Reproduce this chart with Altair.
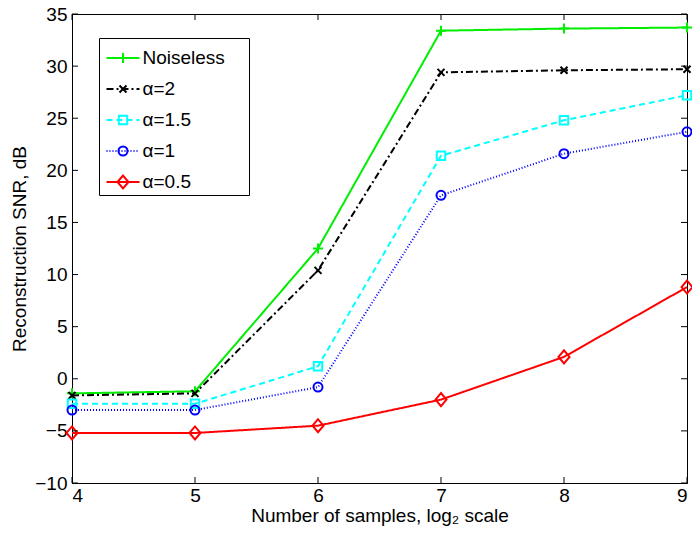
import altair as alt
import pandas as pd

# Reconstruction SNR (dB) versus number of samples (log2 scale)
samples = [4, 5, 6, 7, 8, 9]
series = ["Noiseless", "α=2", "α=1.5", "α=1", "α=0.5"]
snr_noiseless = [-1.4, -1.2, 12.5, 33.4, 33.6, 33.7]
snr_a2 = [-1.6, -1.4, 10.4, 29.4, 29.6, 29.7]
snr_a15 = [-2.4, -2.4, 1.2, 21.4, 24.8, 27.2]
snr_a1 = [-3.0, -3.0, -0.8, 17.6, 21.6, 23.7]
snr_a05 = [-5.2, -5.2, -4.5, -2.0, 2.1, 8.8]

x_ticks = [4, 5, 6, 7, 8, 9]
y_ticks = [-10, -5, 0, 5, 10, 15, 20, 25, 30, 35]

colors = ["#00ee00", "#000000", "#00ffff", "#0000ff", "#ff0000"]
dashes = [[1, 0], [7, 3, 2, 3], [6, 4], [1, 2], [1, 0]]
line_widths = [2, 2, 2, 1, 2]
# Marker outlines, all drawn at one symbol size so their extents set the scale
shapes = [
    "M-1,0H1M0,-1V1",                                   # plus
    "M-0.7,-0.7L0.7,0.7M-0.7,0.7L0.7,-0.7",             # x
    "M-0.84,-0.84H0.84V0.84H-0.84Z",                    # square
    "M-0.9,0A0.9,0.9 0 1,0 0.9,0A0.9,0.9 0 1,0 -0.9,0Z",  # circle
    "M-1.1,0L0,-1.3L1.1,0L0,1.3Z",                      # diamond
]
MARKER_SIZE = 100

rows = []
for name, vals in zip(series, [snr_noiseless, snr_a2, snr_a15, snr_a1, snr_a05]):
    for s, v in zip(samples, vals):
        rows.append({"samples": s, "snr": v, "series": name})
df = pd.DataFrame(rows)

W, H = 615, 469
FONT = "Liberation Sans"
FS = 19
TICK = 6
X_TITLE = "Number of samples, log₂ scale"
Y_TITLE = "Reconstruction SNR, dB"

xs = alt.Scale(domain=[4, 9], nice=False)
ys = alt.Scale(domain=[-10, 35], nice=False)
x_axis = alt.Axis(values=x_ticks, title=X_TITLE, labelPadding=3, titlePadding=1)
y_axis = alt.Axis(values=y_ticks, title=Y_TITLE, labelPadding=5, titlePadding=5,
                  labelExpr="datum.value < 0 ? '−' + abs(datum.value) : datum.label")

x_enc = alt.X("samples:Q", scale=xs, axis=x_axis)
y_enc = alt.Y("snr:Q", scale=ys, axis=y_axis)

# Two stacked legends share one layout: dashed line samples below, markers on top
legend_common = dict(
    title=" ", titleFontSize=5, titlePadding=2,
    orient="none", legendX=27, legendY=24,
    symbolFillColor="transparent", symbolOffset=11.5,
    labelFont=FONT, labelFontSize=FS, labelOffset=10,
    labelExpr="datum.label + '\u00a0\u00a0\u00a0\u00a0\u200b'",
    clipHeight=20, rowPadding=11, padding=3,
)
line_legend = alt.Legend(
    symbolType="M-3,0H3", symbolSize=121, labelColor="black",
    strokeColor="black", fillColor="white", **legend_common,
)
marker_legend = alt.Legend(
    symbolStrokeWidth=2, symbolSize=MARKER_SIZE, labelOpacity=0, **legend_common,
)

lines = alt.Chart(df).mark_line().encode(
    x=x_enc, y=y_enc,
    color=alt.Color("series:N", sort=series,
                    scale=alt.Scale(domain=series, range=colors), legend=line_legend),
    strokeDash=alt.StrokeDash("series:N", sort=series,
                              scale=alt.Scale(domain=series, range=dashes), legend=line_legend),
    strokeWidth=alt.StrokeWidth("series:N", sort=series,
                                scale=alt.Scale(domain=series, range=line_widths), legend=line_legend),
)

points = alt.Chart(df).mark_point(filled=False, strokeWidth=2, opacity=1, size=MARKER_SIZE).encode(
    x=x_enc, y=y_enc,
    color=alt.Color("series:N", sort=series,
                    scale=alt.Scale(domain=series, range=colors), legend=marker_legend),
    shape=alt.Shape("series:N", sort=series,
                    scale=alt.Scale(domain=series, range=shapes), legend=marker_legend),
)

# Inward-pointing tick marks on all four sides of the frame
xt = alt.Chart(pd.DataFrame({"t": x_ticks}))
yt = alt.Chart(pd.DataFrame({"t": y_ticks}))
tick_style = dict(color="black", strokeWidth=1)
tx = alt.X("t:Q", scale=xs, axis=x_axis)
ty = alt.Y("t:Q", scale=ys, axis=y_axis)
ticks = [
    xt.mark_rule(**tick_style).encode(x=tx, y=alt.value(H), y2=alt.value(H - TICK)),
    xt.mark_rule(**tick_style).encode(x=tx, y=alt.value(0), y2=alt.value(TICK)),
    yt.mark_rule(**tick_style).encode(y=ty, x=alt.value(0), x2=alt.value(TICK)),
    yt.mark_rule(**tick_style).encode(y=ty, x=alt.value(W), x2=alt.value(W - TICK)),
]

chart = alt.layer(lines, points, *ticks).resolve_scale(
    color="independent", shape="independent",
    strokeDash="independent", strokeWidth="independent",
).resolve_legend(
    color="independent", shape="independent",
    strokeDash="independent", strokeWidth="independent",
).properties(
    width=W, height=H,
    autosize=alt.AutoSizeParams(type="none"),
    padding={"left": 72, "top": 14, "right": 5, "bottom": 50},
    background="white",
).configure_view(
    stroke="black", strokeWidth=1,
).configure_axis(
    grid=False, ticks=False, domainColor="black", domainWidth=1,
    labelFont=FONT, labelFontSize=FS, labelColor="black",
    titleFont=FONT, titleFontSize=FS, titleFontWeight="normal", titleColor="black",
)

chart.save("out.html", embed_options={"renderer": "svg", "actions": False})
